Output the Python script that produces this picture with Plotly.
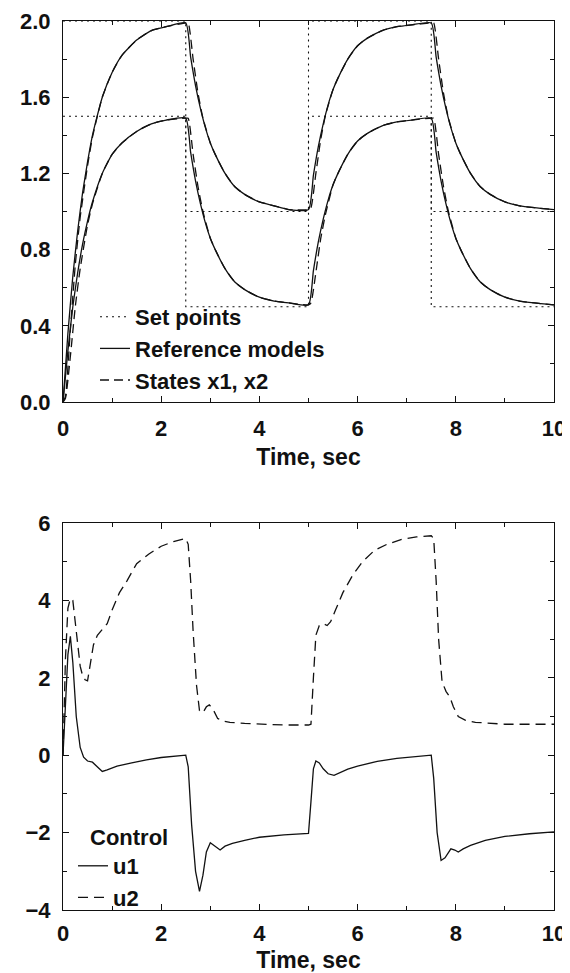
import plotly.graph_objects as go

# ---------------- data: top chart ----------------
t_sp = [0, 2.5, 5, 7.5, 10]
sp1 = [2.0, 1.0, 2.0, 1.0, 1.0]
sp2 = [1.5, 0.5, 1.5, 0.5, 0.5]

t_ref = [0, 0.1, 0.2, 0.3, 0.4, 0.5, 0.6, 0.8, 1.0, 1.2, 1.5, 1.8, 2.1, 2.5,
         2.6, 2.7, 2.8, 2.9, 3.0, 3.1, 3.3, 3.5, 3.7, 4.0, 4.3, 4.6, 5.0,
         5.1, 5.2, 5.3, 5.4, 5.5, 5.6, 5.8, 6.0, 6.2, 6.5, 6.8, 7.1, 7.5,
         7.6, 7.7, 7.8, 7.9, 8.0, 8.1, 8.3, 8.5, 8.7, 9.0, 9.3, 9.6, 10.0]
ref1 = [0, 0.36, 0.66, 0.90, 1.10, 1.26, 1.40, 1.60, 1.73, 1.82, 1.90, 1.95, 1.97, 1.99,
        1.81, 1.66, 1.54, 1.44, 1.36, 1.30, 1.20, 1.13, 1.09, 1.05, 1.03, 1.01, 1.01,
        1.19, 1.34, 1.46, 1.56, 1.64, 1.70, 1.80, 1.87, 1.91, 1.95, 1.97, 1.98, 1.99,
        1.81, 1.66, 1.54, 1.44, 1.36, 1.30, 1.20, 1.13, 1.09, 1.05, 1.03, 1.02, 1.01]
ref2 = [0, 0.27, 0.50, 0.68, 0.83, 0.95, 1.05, 1.20, 1.30, 1.36, 1.42, 1.46, 1.48, 1.49,
        1.31, 1.16, 1.04, 0.94, 0.86, 0.80, 0.70, 0.63, 0.59, 0.55, 0.53, 0.52, 0.51,
        0.69, 0.84, 0.96, 1.06, 1.14, 1.20, 1.30, 1.37, 1.41, 1.45, 1.47, 1.48, 1.49,
        1.31, 1.16, 1.04, 0.94, 0.86, 0.80, 0.70, 0.63, 0.59, 0.55, 0.53, 0.52, 0.51]

t_st = [0, 0.05, 0.15, 0.25, 0.35, 0.5, 0.6, 0.8, 1.0, 1.2, 1.5, 1.8, 2.1, 2.5,
        2.55, 2.65, 2.75, 2.85, 3.0, 3.1, 3.3, 3.5, 3.7, 4.0, 4.3, 4.6, 5.0,
        5.05, 5.15, 5.25, 5.35, 5.5, 5.6, 5.8, 6.0, 6.2, 6.5, 6.8, 7.1, 7.5,
        7.55, 7.65, 7.75, 7.85, 8.0, 8.1, 8.3, 8.5, 8.7, 9.0, 9.3, 9.6, 10.0]
x1 = [0, 0.03, 0.38, 0.72, 0.97, 1.24, 1.39, 1.60, 1.73, 1.82, 1.90, 1.95, 1.97, 1.99,
      1.99, 1.80, 1.62, 1.49, 1.36, 1.30, 1.20, 1.13, 1.09, 1.05, 1.03, 1.01, 1.01,
      1.02, 1.20, 1.38, 1.51, 1.64, 1.70, 1.80, 1.87, 1.91, 1.95, 1.97, 1.98, 1.99,
      1.99, 1.80, 1.62, 1.49, 1.36, 1.30, 1.20, 1.13, 1.09, 1.05, 1.03, 1.02, 1.01]
x2 = [0, 0.02, 0.24, 0.50, 0.70, 0.93, 1.04, 1.20, 1.30, 1.36, 1.42, 1.46, 1.48, 1.49,
      1.49, 1.30, 1.13, 1.00, 0.86, 0.80, 0.70, 0.63, 0.59, 0.55, 0.53, 0.52, 0.51,
      0.52, 0.68, 0.86, 0.99, 1.14, 1.20, 1.30, 1.37, 1.41, 1.45, 1.47, 1.48, 1.49,
      1.49, 1.30, 1.13, 1.00, 0.86, 0.80, 0.70, 0.63, 0.59, 0.55, 0.53, 0.52, 0.51]

# ---------------- data: bottom chart ----------------
t_u1 = [0, 0.05, 0.1, 0.15, 0.2, 0.27, 0.35, 0.42, 0.5, 0.6,
        0.7, 0.8, 0.9, 1.1, 1.4, 1.7, 2.0, 2.3, 2.5, 2.55,
        2.62, 2.7, 2.78, 2.85, 2.92, 3.0, 3.1, 3.2, 3.3, 3.45,
        3.7, 4.0, 4.5, 5.0, 5.05, 5.1, 5.15, 5.22, 5.3, 5.4,
        5.52, 5.65, 5.8, 6.0, 6.4, 6.8, 7.2, 7.5, 7.55, 7.62,
        7.7, 7.78, 7.9, 7.98, 8.05, 8.15, 8.3, 8.6, 9.0, 9.5,
        10.0]
u1 = [0, 1.4, 2.6, 3.07, 2.4, 1.0, 0.2, -0.05, -0.15, -0.18,
      -0.3, -0.42, -0.38, -0.28, -0.2, -0.12, -0.06, -0.02, 0.0, -0.3,
      -1.8, -3.0, -3.52, -3.1, -2.5, -2.26, -2.35, -2.45, -2.35, -2.28,
      -2.2, -2.12, -2.06, -2.02, -1.2, -0.35, -0.15, -0.2, -0.35, -0.48,
      -0.52, -0.45, -0.36, -0.28, -0.16, -0.08, -0.03, 0.0, -0.6, -2.0,
      -2.72, -2.65, -2.42, -2.45, -2.5, -2.42, -2.33, -2.2, -2.1, -2.03,
      -1.98]

t_u2 = [0, 0.05, 0.1, 0.15, 0.2, 0.25, 0.3, 0.35, 0.4, 0.45,
        0.5, 0.55, 0.62, 0.7, 0.8, 0.9, 1.0, 1.15, 1.3, 1.5,
        1.75, 2.0, 2.25, 2.5, 2.55, 2.6, 2.65, 2.72, 2.78, 2.85,
        2.92, 2.98, 3.05, 3.15, 3.25, 3.4, 3.7, 4.0, 4.5, 5.0,
        5.05, 5.1, 5.15, 5.22, 5.3, 5.38, 5.45, 5.55, 5.7, 5.9,
        6.1, 6.35, 6.6, 6.9, 7.2, 7.5, 7.55, 7.6, 7.65, 7.72,
        7.8, 7.88, 7.95, 8.05, 8.2, 8.4, 8.7, 9.0, 9.5, 10.0]
u2 = [0, 2.5, 3.8, 4.05, 4.0, 3.4, 2.8, 2.3, 2.05, 1.95,
      1.92, 2.3, 2.85, 3.1, 3.25, 3.4, 3.75, 4.2, 4.5, 4.95,
      5.2, 5.4, 5.52, 5.6, 5.45, 4.5, 3.2, 1.8, 1.15, 1.1,
      1.25, 1.3, 1.2, 0.95, 0.88, 0.85, 0.82, 0.8, 0.78, 0.78,
      0.8, 2.0, 3.1, 3.35, 3.4, 3.35, 3.45, 3.75, 4.2, 4.65,
      5.0, 5.3, 5.45, 5.58, 5.64, 5.67, 5.6, 4.5, 3.0, 1.9,
      1.65, 1.5, 1.25, 1.0, 0.9, 0.85, 0.82, 0.8, 0.8, 0.8]

x_ticks = [0, 2, 4, 6, 8, 10]
y1_ticks = [0.0, 0.4, 0.8, 1.2, 1.6, 2.0]
y2_ticks = [-4, -2, 0, 2, 4, 6]

# ---------------- figure ----------------
# page body has an 8px margin, so figure coordinates = screen - 8
OFF = 8
W, H = 570 - OFF, 973 - OFF
ML, MR, MT, MB = 55, 16, 13, 63
PW, PH = W - ML - MR, H - MT - MB
FONT = "Liberation Sans"
INK = "#111111"
LW = 1.3
DOT = "2px,4px"
DASH = "10px,6px"


def px_x(sx):
    return (sx - OFF - ML) / PW


def px_y(sy):
    return 1 - (sy - OFF - MT) / PH


fig = go.Figure()

# top chart
fig.add_trace(go.Scatter(x=t_sp, y=sp1, mode="lines", line=dict(color=INK, width=1.1, dash=DOT, shape="hv"),
                         name="Set points", legendgroup="sp", legend="legend", xaxis="x", yaxis="y"))
fig.add_trace(go.Scatter(x=t_sp, y=sp2, mode="lines", line=dict(color=INK, width=1.1, dash=DOT, shape="hv"),
                         name="Set points", legendgroup="sp", showlegend=False, xaxis="x", yaxis="y"))
fig.add_trace(go.Scatter(x=t_ref, y=ref1, mode="lines", line=dict(color=INK, width=LW, shape="spline", smoothing=0.5),
                         name="Reference models", legendgroup="ref", legend="legend", xaxis="x", yaxis="y"))
fig.add_trace(go.Scatter(x=t_ref, y=ref2, mode="lines", line=dict(color=INK, width=LW, shape="spline", smoothing=0.5),
                         name="Reference models", legendgroup="ref", showlegend=False, xaxis="x", yaxis="y"))
fig.add_trace(go.Scatter(x=t_st, y=x1, mode="lines", line=dict(color=INK, width=LW, dash="9px,5px", shape="spline", smoothing=0.5),
                         name="States x1, x2", legendgroup="st", legend="legend", xaxis="x", yaxis="y"))
fig.add_trace(go.Scatter(x=t_st, y=x2, mode="lines", line=dict(color=INK, width=LW, dash="9px,5px", shape="spline", smoothing=0.5),
                         name="States x1, x2", legendgroup="st", showlegend=False, xaxis="x", yaxis="y"))

# bottom chart
fig.add_trace(go.Scatter(x=t_u1, y=u1, mode="lines", line=dict(color=INK, width=LW),
                         name="u1", legend="legend2", xaxis="x2", yaxis="y2"))
fig.add_trace(go.Scatter(x=t_u2, y=u2, mode="lines", line=dict(color=INK, width=LW, dash=DASH),
                         name="u2", legend="legend2", xaxis="x2", yaxis="y2"))

tick_font = dict(family=FONT, size=22, color=INK, weight="bold")
title_font = dict(family=FONT, size=23, color=INK, weight="bold")
leg_font = dict(family=FONT, size=22, color=INK, weight="bold")

common = dict(showline=True, linecolor=INK, linewidth=1.2, mirror="allticks",
              ticks="inside", ticklen=6, tickwidth=1, tickcolor=INK,
              showgrid=False, zeroline=False, tickfont=tick_font, automargin=False,
              ticklabeloverflow="allow")

top_lo = (H - MB - 394) / PH      # top plot bottom at screen y 402
bot_hi = (H - MB - 515) / PH      # bottom plot top at screen y 523

fig.update_layout(
    width=W, height=H,
    margin=dict(l=ML, r=MR, t=MT, b=MB, autoexpand=False),
    paper_bgcolor="white", plot_bgcolor="white",
    xaxis=dict(domain=[0, 1], anchor="y", range=[0, 10], tickvals=x_ticks,
               minor=dict(ticks="inside", ticklen=4, dtick=1, tickcolor=INK, showgrid=False),
               ticklabelstandoff=6,
               title=dict(text="Time, sec", font=title_font, standoff=9), **common),
    yaxis=dict(domain=[top_lo, 1], anchor="x", range=[0, 2.0], tickvals=y1_ticks, tickformat=".1f",
               minor=dict(ticks="inside", ticklen=4, dtick=0.2, tickcolor=INK, showgrid=False),
               ticklabelstandoff=7, **common),
    xaxis2=dict(domain=[0, 1], anchor="y2", range=[0, 10], tickvals=x_ticks,
                minor=dict(ticks="inside", ticklen=4, dtick=1, tickcolor=INK, showgrid=False),
                ticklabelstandoff=3,
                title=dict(text="Time, sec", font=title_font, standoff=10), **common),
    yaxis2=dict(domain=[0, bot_hi], anchor="x2", range=[-4, 6], tickvals=y2_ticks,
                minor=dict(ticks="inside", ticklen=4, dtick=1, tickcolor=INK, showgrid=False),
                ticklabelstandoff=7, **common),
    legend=dict(x=px_x(95), y=px_y(296),
                xanchor="left", yanchor="top", bgcolor="rgba(0,0,0,0)",
                font=leg_font, itemwidth=30, tracegroupgap=0, traceorder="normal"),
    legend2=dict(x=px_x(73), y=px_y(845),
                 xanchor="left", yanchor="top", bgcolor="rgba(0,0,0,0)",
                 font=leg_font, itemwidth=30, tracegroupgap=0, traceorder="normal"),
    annotations=[dict(text="Control", xref="paper", yref="paper",
                      x=px_x(88), y=px_y(837),
                      xanchor="left", yanchor="middle", showarrow=False,
                      font=leg_font)],
)

fig.write_html("out.html")
